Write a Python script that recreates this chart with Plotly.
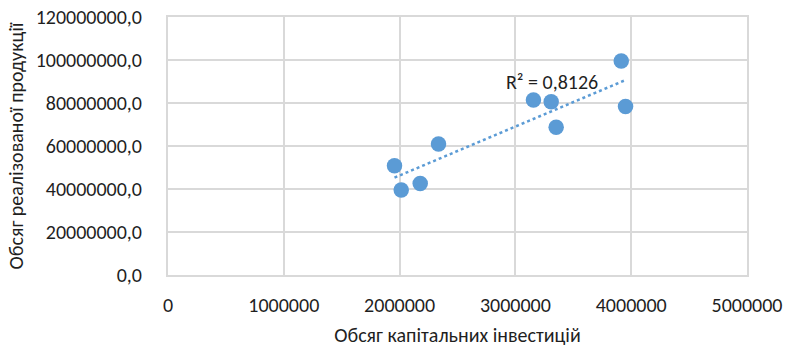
import numpy as np
import plotly.graph_objects as go

# Capital investment volume vs. sales volume
investments = [1956000, 2014000, 2178000, 2336000, 3156000, 3309000, 3352000, 3914000, 3951000]
sales = [50800000, 39500000, 42600000, 60900000, 81400000, 80600000, 68700000, 99500000, 78400000]
r_squared = 0.8126

x_ticks = [0, 1000000, 2000000, 3000000, 4000000, 5000000]
y_ticks = [0, 20000000, 40000000, 60000000, 80000000, 100000000, 120000000]

BLUE = "#5B9BD5"
GRID = "#D9D9D9"
TEXT = "#1F1F1F"
FONT = "Carlito, Calibri, Lato, sans-serif"
SIZE = 20

x = np.array(investments, dtype=float)
y = np.array(sales, dtype=float)
slope, intercept = np.polyfit(x, y, 1)
trend_x = np.array([x.min(), x.max()])
trend_y = slope * trend_x + intercept

fig = go.Figure()
fig.add_trace(go.Scatter(
    x=trend_x, y=trend_y, mode="lines",
    line=dict(color=BLUE, width=2.5, dash="dot"),
    hoverinfo="skip", showlegend=False,
))
fig.add_trace(go.Scatter(
    x=investments, y=sales, mode="markers",
    marker=dict(color=BLUE, size=15.5, line=dict(width=0)),
    showlegend=False,
))

fig.add_annotation(
    x=3312000, y=89800000, xref="x", yref="y",
    text="R² = " + f"{r_squared:.4f}".replace(".", ","),
    showarrow=False, font=dict(family=FONT, size=SIZE, color=TEXT),
)

fig.update_layout(
    width=787, height=347,
    margin=dict(l=168, r=40, t=17, b=72),
    paper_bgcolor="white", plot_bgcolor="white",
    separators=", ",
    font=dict(family=FONT, size=SIZE, color=TEXT),
)
fig.update_xaxes(
    range=[0, 5000000], tickvals=x_ticks, tickformat="d",
    showgrid=True, gridcolor=GRID, gridwidth=1.5,
    showline=True, linecolor=GRID, linewidth=2, mirror=True,
    ticks="outside", ticklen=11, tickcolor="rgba(0,0,0,0)",
    zeroline=False, automargin=False,
    title=dict(text="Обсяг капітальних інвестицій", standoff=12,
               font=dict(family=FONT, size=SIZE, color=TEXT)),
)
fig.update_yaxes(
    range=[0, 120000000], tickvals=y_ticks, tickformat=".1f",
    showgrid=True, gridcolor=GRID, gridwidth=1.5,
    showline=True, linecolor=GRID, linewidth=2, mirror=True,
    ticks="outside", ticklen=20, tickcolor="rgba(0,0,0,0)",
    zeroline=False, automargin=False,
    title=dict(text="Обсяг реалізованої продукції", standoff=7,
               font=dict(family=FONT, size=SIZE, color=TEXT)),
)

fig.write_html("out.html")
